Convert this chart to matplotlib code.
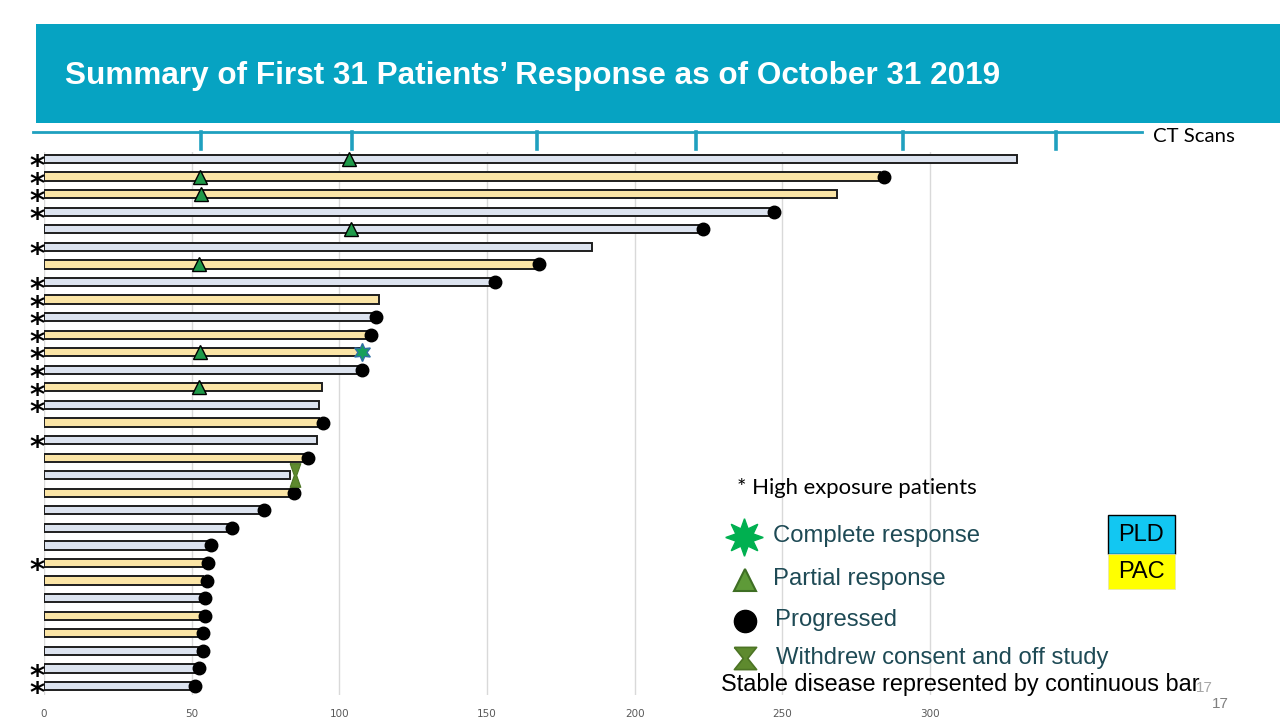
import matplotlib
matplotlib.use("Agg")
import matplotlib.pyplot as plt
from matplotlib.patches import Rectangle
from matplotlib.lines import Line2D
import matplotlib.transforms as mtransforms

# ---------------- data ----------------
treatment = ['PLD', 'PAC', 'PAC', 'PLD', 'PLD', 'PLD', 'PAC', 'PLD', 'PAC', 'PLD',
             'PAC', 'PAC', 'PLD', 'PAC', 'PLD', 'PAC', 'PLD', 'PAC', 'PLD', 'PAC',
             'PLD', 'PLD', 'PLD', 'PAC', 'PAC', 'PLD', 'PAC', 'PAC', 'PLD', 'PLD', 'PLD']
days_on_study = [329.4, 283.0, 268.4, 245.7, 221.8, 185.7, 166.3, 151.4, 113.4, 111.0,
                 109.3, 107.0, 106.4, 94.2, 93.2, 93.2, 92.3, 88.0, 83.3, 83.3,
                 73.1, 62.4, 55.1, 54.2, 53.9, 53.2, 53.2, 52.4, 52.3, 51.1, 49.7]
progressed = [False, True, False, True, True, False, True, True, False, True,
              True, False, True, False, False, True, False, True, False, True,
              True, True, True, True, True, True, True, True, True, True, True]
high_exposure = [True, True, True, True, False, True, False, True, True, True,
                 True, True, True, True, True, False, True, False, False, False,
                 False, False, False, True, False, False, False, False, False, True, True]
partial_rows = [0, 1, 2, 4, 6, 11, 13]
partial_days = [103.3, 52.8, 53.1, 103.9, 52.6, 52.8, 52.4]
complete_rows = [11]
complete_days = [107.8]
withdrew_rows = [18]
withdrew_days = [85.1]
ct_scan_days = [53.2, 104.3, 167.0, 220.8, 291.0, 342.7]
x_ticks = [0, 50, 100, 150, 200, 250, 300]

title = "Summary of First 31 Patients\u2019 Response as of October 31 2019"

# ---------------- styling ----------------
W, H = 1280, 720
fill = {'PLD': '#DCE3EF', 'PAC': '#FBE5A6'}
edge = '#1E1E1E'
teal = '#06A3C2'
legend_txt = '#1E4A55'

fig = plt.figure(figsize=(12.8, 7.2), dpi=100)

def fx(px):
    return px / W

def fy(py):
    return 1 - py / H

# main axes: x 0 at px 44, 2.953 px per day; rows 0..30 at py 159..686
ax_left, ax_right = 44, 1050
ax_top, ax_bot = 152, 695
ax = fig.add_axes([fx(ax_left), fy(ax_bot), fx(ax_right - ax_left), (ax_bot - ax_top) / H])
px_per_day = 2.953
ax.set_xlim(0, (ax_right - ax_left) / px_per_day)
row_sp = (686 - 159) / 30
ax.set_ylim(30 + (ax_bot - 686) / row_sp, -(159 - ax_top) / row_sp)

n = len(days_on_study)
rows = list(range(n))
ax.barh(rows, days_on_study, height=0.47,
        color=[fill[t] for t in treatment], edgecolor=edge, linewidth=1.4, zorder=3)

prog_r = [r for r in rows if progressed[r]]
prog_x = [days_on_study[r] + 1.4 for r in prog_r]
ax.plot(prog_x, prog_r, 'o', ms=9, color='black', zorder=5, clip_on=False)

ax.plot(partial_days, partial_rows, '^', ms=10, markerfacecolor='#1F9A4A',
        markeredgecolor='black', markeredgewidth=1.0, linestyle='none', zorder=6)

ax.plot(complete_days, complete_rows, marker=(6, 1, 0), ms=13, markerfacecolor='#16A05A',
        markeredgecolor='#2F6EA5', markeredgewidth=1.0, linestyle='none', zorder=6)

hourglass_narrow = [(-0.45, 1), (0.45, 1), (0.1, 0), (0.45, -1), (-0.45, -1), (-0.1, 0), (-0.45, 1)]
ax.plot(withdrew_days, withdrew_rows, marker=hourglass_narrow, ms=17, markerfacecolor='#5E8A2E',
        markeredgecolor='#4C7424', markeredgewidth=0.8, linestyle='none', zorder=6)

# asterisks for high exposure
trans_ast = mtransforms.blended_transform_factory(fig.transFigure, ax.transData)
for r in rows:
    if high_exposure[r]:
        ax.text(fx(37), r + 0.35, r'$\mathbf{*}$', transform=trans_ast, ha='center', va='center',
                fontsize=21, color='black', clip_on=False)

ax.set_xticks(x_ticks)
ax.set_xticklabels([str(v) for v in x_ticks])
ax.set_yticks([])
ax.grid(axis='x', color='#D9D9D9', linewidth=1.0, zorder=0)
ax.set_axisbelow(True)
ax.tick_params(axis='x', length=0, pad=10, labelsize=7.5, labelcolor='#595959')
for s in ax.spines.values():
    s.set_visible(False)

# CT scan timeline
trans_ct = mtransforms.blended_transform_factory(ax.transData, fig.transFigure)
line_x0 = (33 - ax_left) / px_per_day
line_x1 = (1142 - ax_left) / px_per_day
ax.add_line(Line2D([line_x0, line_x1], [fy(132), fy(132)], transform=trans_ct,
                   color='#1FA0BF', linewidth=2.0, clip_on=False))
for d in ct_scan_days:
    ax.add_line(Line2D([d, d], [fy(132), fy(149)], transform=trans_ct,
                       color='#1FA0BF', linewidth=2.6, clip_on=False))

# ---------------- overlay for annotations ----------------
ov = fig.add_axes([0, 0, 1, 1], facecolor='none')
ov.set_xlim(0, W)
ov.set_ylim(H, 0)
ov.axis('off')

ov.add_patch(Rectangle((36, 24), W - 36, 99, facecolor=teal, edgecolor='none', zorder=1))
ov.text(65, 76, title, color='white', fontsize=22.7, fontweight='bold',
        family='Liberation Sans', va='center', ha='left', zorder=2)

ov.text(1153, 136, 'CT Scans', fontsize=14.7, family='Lato', color='black', va='center', ha='left')
ov.text(737, 488, '* High exposure patients', fontsize=15.9, family='Lato', color='black',
        va='center', ha='left')

# legend markers
hourglass = [(-1, 1), (1, 1), (0.2, 0), (1, -1), (-1, -1), (-0.2, 0), (-1, 1)]
ov.plot([744], [537], marker=(8, 1, 0), ms=27, color='#00B050', markeredgecolor='#00B050')
ov.plot([745], [580], marker='^', ms=16, markerfacecolor='#5E9A38',
        markeredgecolor='#3E6E24', markeredgewidth=1.5)
ov.plot([745], [621], marker='o', ms=16, color='black')
ov.plot([745], [658], marker=hourglass, ms=16, markerfacecolor='#5E8A2E',
        markeredgecolor='#4C7424', markeredgewidth=1.2)

leg_items = [('Complete response', 773, 536), ('Partial response', 773, 579),
             ('Progressed', 775, 620), ('Withdrew consent and off study', 776, 658)]
for txt, x, y in leg_items:
    ov.text(x, y, txt, fontsize=17.2, family='Liberation Sans', color=legend_txt,
            va='center', ha='left')

# treatment boxes
ov.add_patch(Rectangle((1108, 515), 67, 39, facecolor='#12C7F2', edgecolor='black',
                       linewidth=1.0, zorder=3))
ov.add_patch(Rectangle((1108, 554), 67, 35, facecolor='#FFFF00', edgecolor='#E6E6B0',
                       linewidth=0.6, zorder=3))
ov.text(1141, 535, 'PLD', fontsize=17, family='Liberation Sans', color='black',
        ha='center', va='center', zorder=4)
ov.text(1141, 572, 'PAC', fontsize=17, family='Liberation Sans', color='black',
        ha='center', va='center', zorder=4)

ov.text(1204, 688, '17', fontsize=11, family='Liberation Sans', color='#A6A6A6',
        ha='center', va='center')
ov.text(721, 684, 'Stable disease represented by continuous bar', fontsize=16.9,
        family='Liberation Sans', color='black', ha='left', va='center')
ov.text(1220, 704, '17', fontsize=11, family='Liberation Sans', color='#7F7F7F',
        ha='center', va='center')

fig.savefig('out.png', dpi=100)
